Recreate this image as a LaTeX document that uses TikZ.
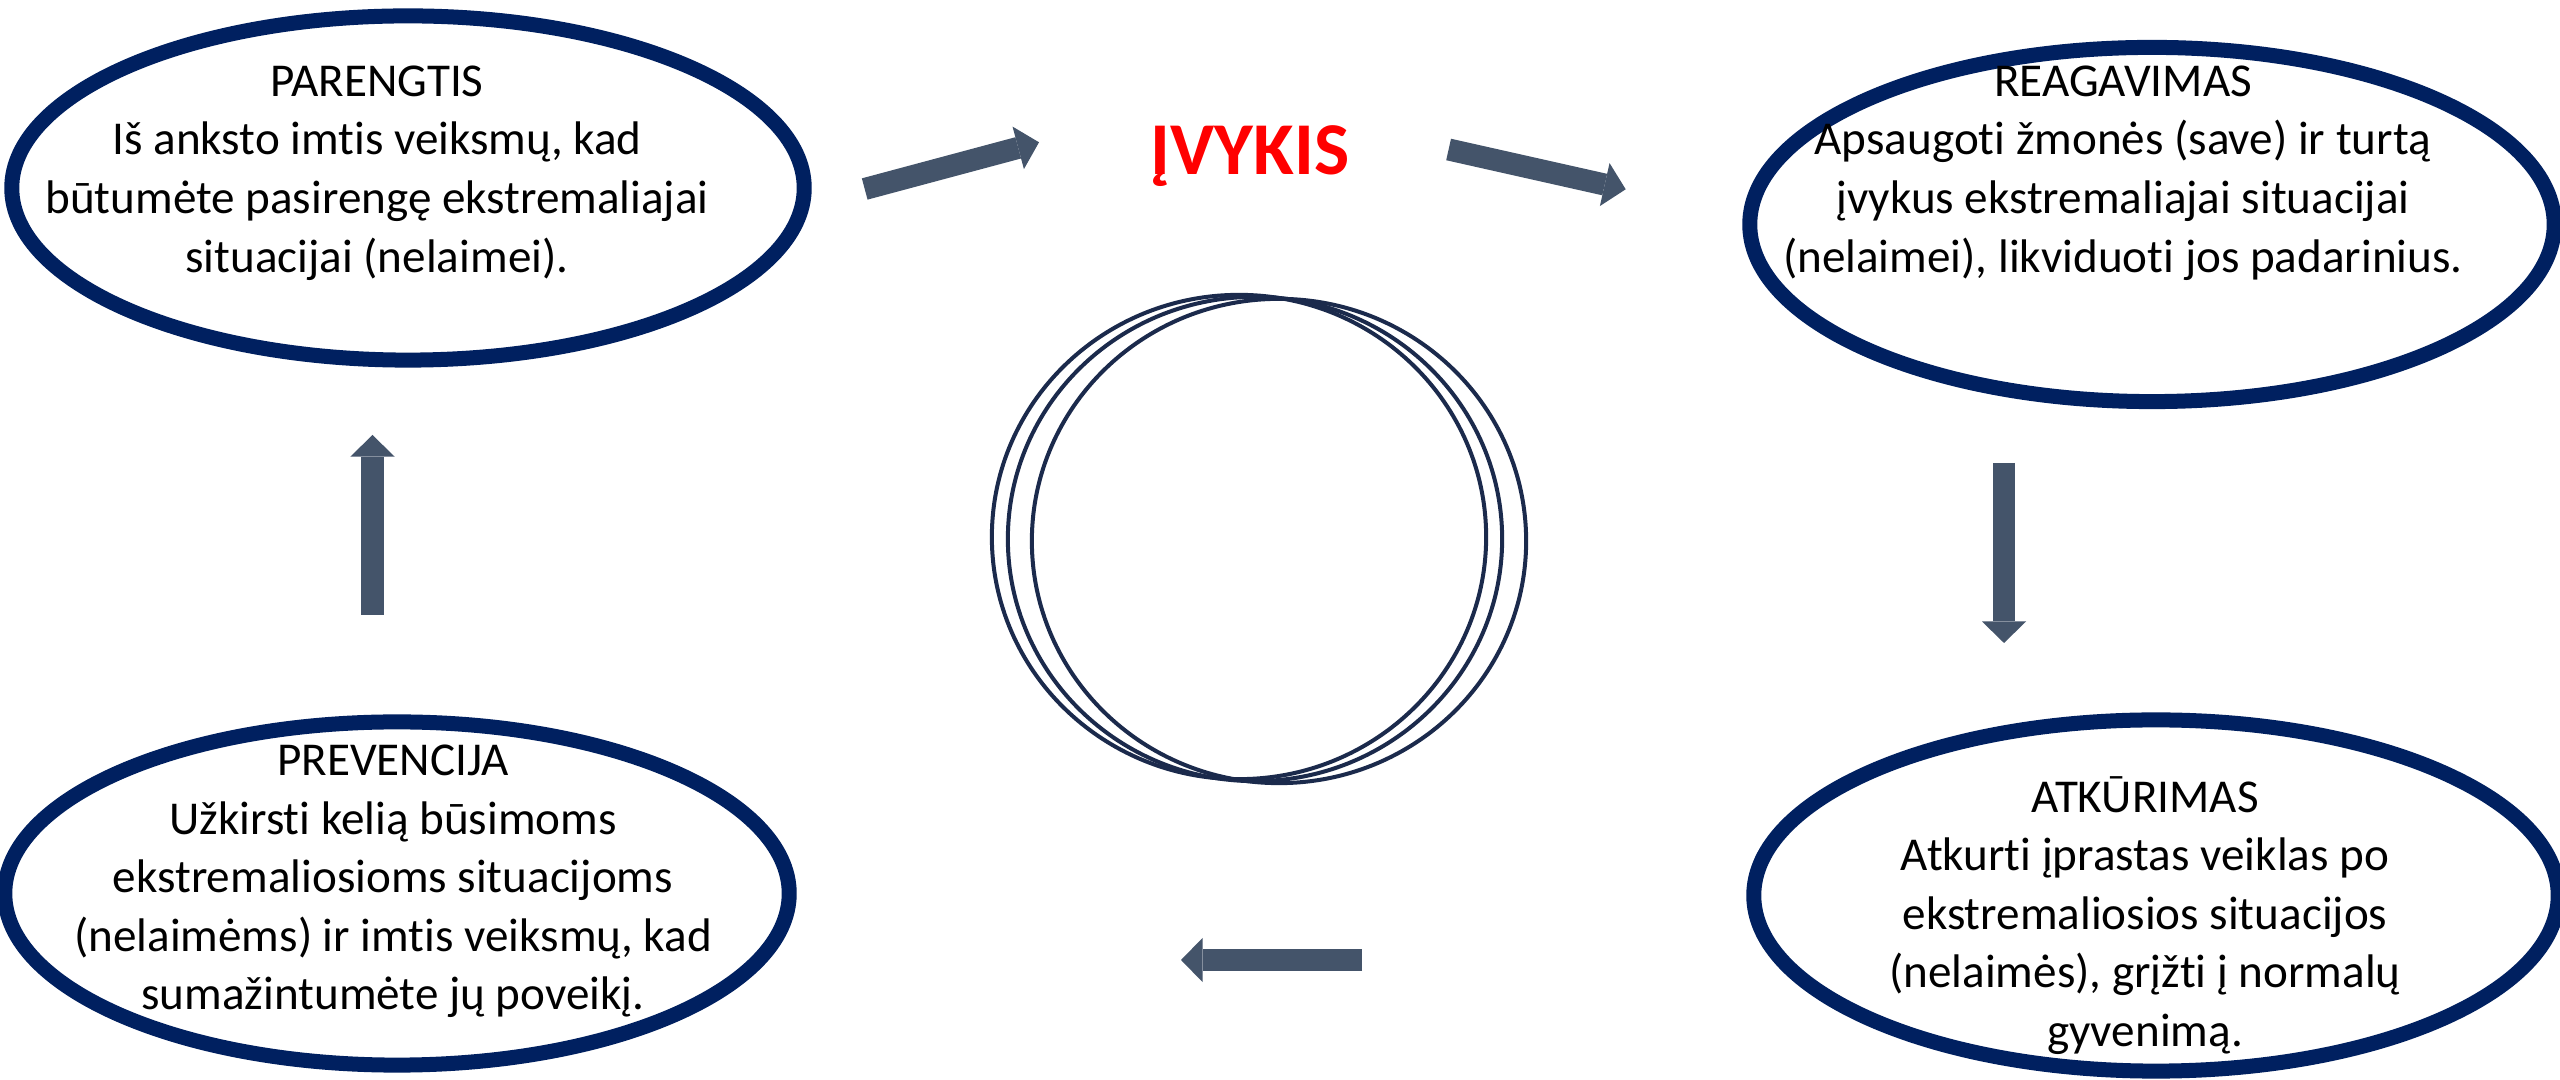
\documentclass[tikz,border=0pt]{standalone}
\usepackage{fontspec}
\setmainfont{Carlito}[Ligatures=NoCommon]
\usetikzlibrary{shapes.geometric,arrows.meta}
\definecolor{phaseblue}{RGB}{0,32,96}
\definecolor{arrowgray}{RGB}{68,84,106}
\definecolor{ringblue}{RGB}{27,42,76}
\definecolor{eventred}{RGB}{255,0,0}
\begin{document}
\begin{tikzpicture}[x=0.01cm,y=-0.01cm,
  phase/.style={ellipse, draw=phaseblue, line width=0.15cm, inner sep=0pt},
  ring/.style={ellipse, draw=ringblue, line width=0.04cm, inner sep=0pt,
    minimum width=4.94cm, minimum height=4.84cm},
  phasetext/.style={align=center, inner sep=0pt, text=black,
    font=\fontsize{13.4pt}{16.65pt}\selectfont},
  eventtext/.style={inner sep=0pt, anchor=base, text=eventred,
    font=\fontsize{21.2pt}{25pt}\selectfont\bfseries},
  blockarrow/.style={draw=arrowgray, line width=0.22cm,
    -{Triangle[width=0.44cm,length=0.215cm,line width=0pt]}}]
\useasboundingbox (0,0) rectangle (2560,1080);
\fill[white] (0,0) rectangle (2560,1080);

% phase ellipses
\node[phase, minimum width=7.92cm, minimum height=3.44cm] (prepE) at (408,188) {};
\node[phase, minimum width=8.04cm, minimum height=3.54cm] (respE) at (2152,224.5) {};
\node[phase, minimum width=7.84cm, minimum height=3.43cm] (prevE) at (397,893.5) {};
\node[phase, minimum width=8.04cm, minimum height=3.51cm] (recE) at (2156,895.5) {};

% phase texts
\node[phasetext] (prepT) at (377,173) {PARENGTIS\\Iš anksto imtis veiksmų, kad\\būtumėte pasirengę ekstremaliajai\\situacijai (nelaimei).};
\node[phasetext] (respT) at (2123,173) {REAGAVIMAS\\Apsaugoti žmonės (save) ir turtą\\įvykus ekstremaliajai situacijai\\(nelaimei), likviduoti jos padarinius.};
\node[phasetext] (prevT) at (393,881.5) {PREVENCIJA\\Užkirsti kelią būsimoms\\ekstremaliosioms situacijoms\\(nelaimėms) ir imtis veiksmų, kad\\sumažintumėte jų poveikį.};
\node[phasetext] (recT) at (2145,915.5) {ATKŪRIMAS\\Atkurti įprastas veiklas po\\ekstremaliosios situacijos\\(nelaimės), grįžti į normalų\\gyvenimą.};

% event
\node[eventtext] (event) at (1250,175) {ĮVYKIS};

% central rings
\node[ring] (ringA) at (1239,537) {};
\node[ring] (ringB) at (1255,539) {};
\node[ring] (ringC) at (1279,541) {};

% arrows
\coordinate (a1s) at (864.7,189);   \coordinate (a1e) at (1039,142.3);
\coordinate (a2s) at (1448.6,149.5); \coordinate (a2e) at (1625.7,189.3);
\coordinate (a3s) at (2004,463);    \coordinate (a3e) at (2004,643);
\coordinate (a4s) at (1362,960);    \coordinate (a4e) at (1181,960);
\coordinate (a5s) at (372.5,615);   \coordinate (a5e) at (372.5,435);
\draw[blockarrow] (a1s) -- (a1e);
\draw[blockarrow] (a2s) -- (a2e);
\draw[blockarrow] (a3s) -- (a3e);
\draw[blockarrow] (a4s) -- (a4e);
\draw[blockarrow] (a5s) -- (a5e);
\end{tikzpicture}
\end{document}
